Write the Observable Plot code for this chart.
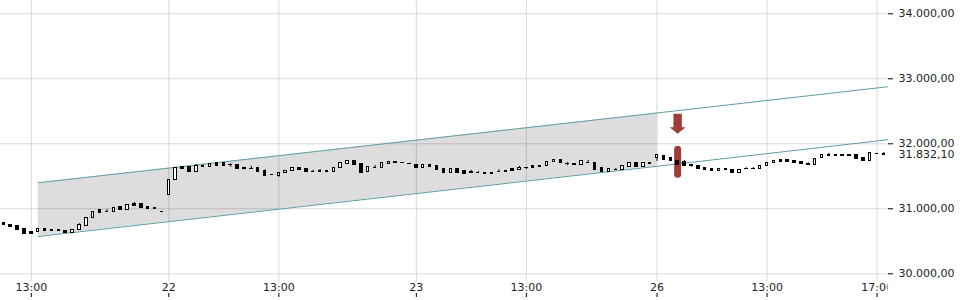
<!DOCTYPE html>
<html><head><meta charset="utf-8">
<script src="https://cdn.jsdelivr.net/npm/d3@7"></script>
<script src="https://cdn.jsdelivr.net/npm/@observablehq/plot@0.6"></script>
<style>html,body{margin:0;padding:0;background:#fff;}</style>
</head><body><div id="chart"></div>
<script>
// 15-minute candles, indexed by trading slot (non-trading hours removed)
const opens = [30785,30758,30728,30686,30640,30640,30692,30681,30675,30661,30625,30671,30732,30861,30974,30950,30948,31020,30978,31081,31071,31020,31005,30958,
31212,31446,31646,31640,31563,31652,31646,31701,31697,31672,31671,31621,31616,31620,31584,31518,31501,31554,31578,31635,31605,31570,31578,31589,31563,31631,31692,31743,31686,31569,31632,31625,31686,31723,31709,31687,
31671,31635,31677,31651,31605,31554,31605,31574,31559,31549,31558,31558,31564,31584,31605,31600,31632,31651,31660,31661,31723,31758,31687,31682,31671,31709,31712,31620,31563,31601,31594,31640,31697,31640,31698,
31785,31805,31774,31743,31717,31667,31651,31620,31605,31584,31615,31600,31554,31610,31616,31615,31651,31697,31748,31754,31732,31717,31683,31671,31785,31821,31825,31821,31835,31835,31774,31732,31845,31838];
const closes = [30754,30723,30677,30615,30615,30692,30655,30655,30655,30625,30681,30754,30866,30954,30943,30948,31005,30974,31055,31046,31009,30994,30995,30950,
31446,31620,31609,31563,31655,31649,31686,31666,31655,31670,31609,31619,31614,31563,31508,31516,31558,31589,31631,31594,31563,31568,31563,31563,31631,31697,31743,31677,31554,31640,31630,31701,31723,31708,31707,31685,
31635,31677,31646,31594,31554,31605,31554,31543,31557,31547,31538,31540,31562,31563,31578,31635,31630,31631,31646,31723,31758,31708,31685,31680,31728,31707,31600,31569,31605,31599,31651,31701,31640,31697,31696,
31820,31748,31728,31677,31661,31665,31615,31600,31584,31615,31594,31554,31600,31608,31614,31651,31697,31738,31723,31723,31697,31692,31680,31769,31831,31819,31815,31819,31815,31769,31732,31851,31842,31832.1];
// wick extremes beyond the body: [slot, value]
const upperWicks = [[11,30770],[15,30985],[17,31025],[19,31097],[28,31681],[29,31677],[31,31710],[33,31692],[35,31640],[36,31655],[38,31600],[45,31594],[46,31605],[54,31666],[55,31712],[62,31686],[64,31620],[68,31589],[69,31574],[72,31600],[75,31651],[82,31712],[85,31743],[89,31620],[91,31712],[96,31825],[99,31743],[108,31631],[109,31635],[117,31708],[120,31851],[128,31866]];
const lowerWicks = [[33,31640],[35,31600],[40,31486],[52,31543],[76,31605],[82,31661],[95,31728],[100,31640]];

// x-axis ticks (slot index) and labels
const xTickSlots = [4, 24, 40, 60, 76, 95, 111, 127];
const xTickLabels = ["13:00", "22", "13:00", "23", "13:00", "26", "13:00", "17:00"];
const yTicks = [30000, 31000, 32000, 33000, 34000];

// trend channel: slots and values of the upper and lower lines
const channelSlots = [5, 95, 128.52];
const channelUpper = [31400, 32474, 32877];
const channelLower = [30574, 31654, 32062];
const shadeEndIndex = 1; // shaded band runs up to the second channel point

// signal marker
const markerSlot = 98;
const markerArrowY = 32308;
const markerBar = [31525, 31910];

const xDomain = [-0.48, 128.52];
const yDomain = [29881.5, 34204.6];

const de = d3.formatLocale({decimal: ",", thousands: ".", grouping: [3], currency: ["", ""]});
const fmt = de.format(",.2f");

const candles = opens.map((o, i) => ({i, o, c: closes[i], up: closes[i] >= o}));
const wicks = [
  ...upperWicks.map(([i, v]) => ({i, a: Math.max(opens[i], closes[i]), b: v})),
  ...lowerWicks.map(([i, v]) => ({i, a: Math.min(opens[i], closes[i]), b: v}))
];
const channel = channelSlots.map((s, k) => ({s, hi: channelUpper[k], lo: channelLower[k]}));
const shade = channel.slice(0, shadeEndIndex + 1);
const labelBySlot = new Map(xTickSlots.map((s, k) => [s, xTickLabels[k]]));
const lastClose = closes[closes.length - 1];

const red = "#a03d37";
const teal = "#5d9fa3";
const arrowSymbol = {draw(ctx) {
  ctx.moveTo(-4.2, -10); ctx.lineTo(4.2, -10); ctx.lineTo(4.2, 3.4); ctx.lineTo(7.9, 3.4);
  ctx.lineTo(0, 10); ctx.lineTo(-7.9, 3.4); ctx.lineTo(-4.2, 3.4); ctx.closePath();
}};

const chart = Plot.plot({
  width: 960, height: 300,
  marginLeft: 0, marginRight: 73, marginTop: 0, marginBottom: 19,
  style: {fontFamily: "'DejaVu Sans', sans-serif", fontSize: "11px", color: "#222", background: "#fff"},
  x: {type: "linear", domain: xDomain, axis: null},
  y: {type: "linear", domain: yDomain, axis: null},
  marks: [
    Plot.gridX(xTickSlots, {stroke: "#d9d9d9", strokeOpacity: 1}),
    Plot.gridY(yTicks, {stroke: "#d9d9d9", strokeOpacity: 1}),
    Plot.areaY(shade, {x: "s", y1: "lo", y2: "hi", fill: "#000", fillOpacity: 0.135, curve: "linear"}),
    Plot.line(channel, {x: "s", y: "hi", stroke: teal, strokeWidth: 1}),
    Plot.line(channel, {x: "s", y: "lo", stroke: teal, strokeWidth: 1}),
    Plot.ruleX([markerSlot], {x: d => d, y1: markerBar[0], y2: markerBar[1], stroke: red, strokeWidth: 7, strokeLinecap: "round"}),
    Plot.ruleX(wicks, {x: "i", y1: "a", y2: "b", stroke: "#000", strokeWidth: 1}),
    Plot.rect(candles, {
      x1: d => d.i - 0.5, x2: d => d.i + 0.5, y1: "o", y2: "c",
      insetLeft: 2.2, insetRight: 2.2,
      fill: d => d.up ? "#fff" : "#000", stroke: "#000", strokeWidth: 1,
      shapeRendering: "crispEdges"
    }),
    Plot.dot([markerSlot], {x: d => d, y: () => markerArrowY, symbol: arrowSymbol, fill: red, stroke: "none", r: 5}),
    Plot.axisY(yTicks, {anchor: "right", tickSize: 5, tickPadding: 6, tickFormat: fmt, stroke: "#000", fill: "#222", label: null}),
    Plot.axisY([lastClose], {anchor: "right", tickSize: 0, tickPadding: 11, tickFormat: fmt, fill: "#222", textStroke: "#fff", textStrokeWidth: 4, label: null}),
    Plot.axisX(xTickSlots, {anchor: "bottom", tickSize: 4, dy: 12, fill: "none", stroke: "#000", label: null}),
    Plot.axisX(xTickSlots, {anchor: "bottom", tickSize: 0, tickPadding: 2, tickFormat: d => labelBySlot.get(d), fill: "#222", label: null})
  ]
});

// clip x-axis labels to the plotting area, as in the reference
const ns = "http://www.w3.org/2000/svg";
const defs = document.createElementNS(ns, "defs");
const cp = document.createElementNS(ns, "clipPath");
cp.setAttribute("id", "xlabel-clip");
const cr = document.createElementNS(ns, "rect");
const xr = chart.scale("x").range;
cr.setAttribute("x", xr[0]); cr.setAttribute("y", 0);
cr.setAttribute("width", xr[1] - xr[0]); cr.setAttribute("height", 300);
cp.appendChild(cr); defs.appendChild(cp); chart.insertBefore(defs, chart.firstChild);
const labels = chart.querySelectorAll('g[aria-label="x-axis tick label"]');
labels.forEach(g => g.setAttribute("clip-path", "url(#xlabel-clip)"));

document.getElementById("chart").appendChild(chart);
</script>
</body></html>
